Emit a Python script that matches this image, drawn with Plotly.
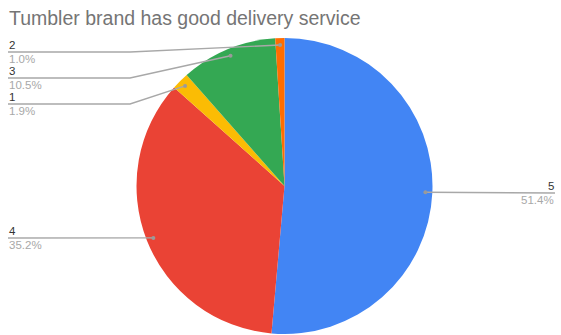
import math
import plotly.graph_objects as go

# Survey answers for "Tumbler brand has good delivery service"
labels = ["5", "4", "1", "3", "2"]
shares = [51.4, 35.2, 1.9, 10.5, 1.0]
colors = ["#4285F4", "#EA4335", "#FBBC04", "#34A853", "#FF6D01"]

W, H = 561, 335
CX, CY, R = 284.5, 186.0, 148.0   # pie centre / radius in pixels
FONT = "Liberation Sans, Arial, sans-serif"

def px(x):
    return x / W

def py(y):
    return 1 - y / H

fig = go.Figure(go.Pie(
    labels=labels,
    values=shares,
    sort=False,
    direction="clockwise",
    rotation=0,
    marker=dict(colors=colors, line=dict(width=0)),
    textinfo="none",
    hoverinfo="label+percent",
    showlegend=False,
    domain=dict(x=[px(CX - R), px(CX + R)], y=[py(CY + R), py(CY - R)]),
))

# leader-line layout: which side each label sits on and its line height
side = {"5": "right", "4": "left", "1": "left", "3": "left", "2": "left"}
line_y = {"5": 193, "4": 238, "1": 104, "3": 78, "2": 52}
LEFT_X, RIGHT_X, ELBOW_X = 8, 555, 130
LINE_COL = "#a8a8a8"

shapes, annotations = [], []
total = sum(shares)
cum = 0.0
for lab, val in zip(labels, shares):
    mid = (cum + val / 2) / total * 2 * math.pi
    cum += val
    dx = CX + 0.953 * R * math.sin(mid)
    dy = CY - 0.953 * R * math.cos(mid)
    ly = line_y[lab]
    if side[lab] == "left":
        pts = [(LEFT_X, ly), (ELBOW_X, ly), (dx, dy)] if abs(dy - ly) > 1 else [(LEFT_X, ly), (dx, dy)]
        tx, anchor = LEFT_X, "left"
    else:
        pts = [(dx, dy), (RIGHT_X, ly)]
        tx, anchor = RIGHT_X, "right"
    path = "M " + " L ".join(f"{px(x)},{py(y)}" for x, y in pts)
    shapes.append(dict(type="path", path=path, xref="paper", yref="paper",
                       line=dict(color=LINE_COL, width=1.4)))
    shapes.append(dict(type="circle", xref="paper", yref="paper",
                       x0=px(dx - 2), x1=px(dx + 2), y0=py(dy + 2), y1=py(dy - 2),
                       fillcolor="#9a9a9a", line=dict(width=0)))
    annotations.append(dict(x=px(tx), y=py(ly), xref="paper", yref="paper",
                            text=lab, showarrow=False, xanchor=anchor, yanchor="bottom",
                            font=dict(size=11.5, color="#333333", family=FONT),
                            borderpad=0, yshift=0))
    annotations.append(dict(x=px(tx), y=py(ly), xref="paper", yref="paper",
                            text=f"{val:.1f}%", showarrow=False, xanchor=anchor, yanchor="top",
                            font=dict(size=11.5, color="#a8a8a8", family=FONT),
                            borderpad=0, yshift=0))

fig.update_layout(
    width=W, height=H,
    margin=dict(l=0, r=0, t=0, b=0),
    paper_bgcolor="white",
    plot_bgcolor="white",
    title=dict(text="Tumbler brand has good delivery service",
               x=px(9), xanchor="left", y=py(18), yanchor="middle",
               font=dict(size=19.5, color="#757575", family=FONT)),
    shapes=shapes,
    annotations=annotations,
)

fig.write_html("out.html")
